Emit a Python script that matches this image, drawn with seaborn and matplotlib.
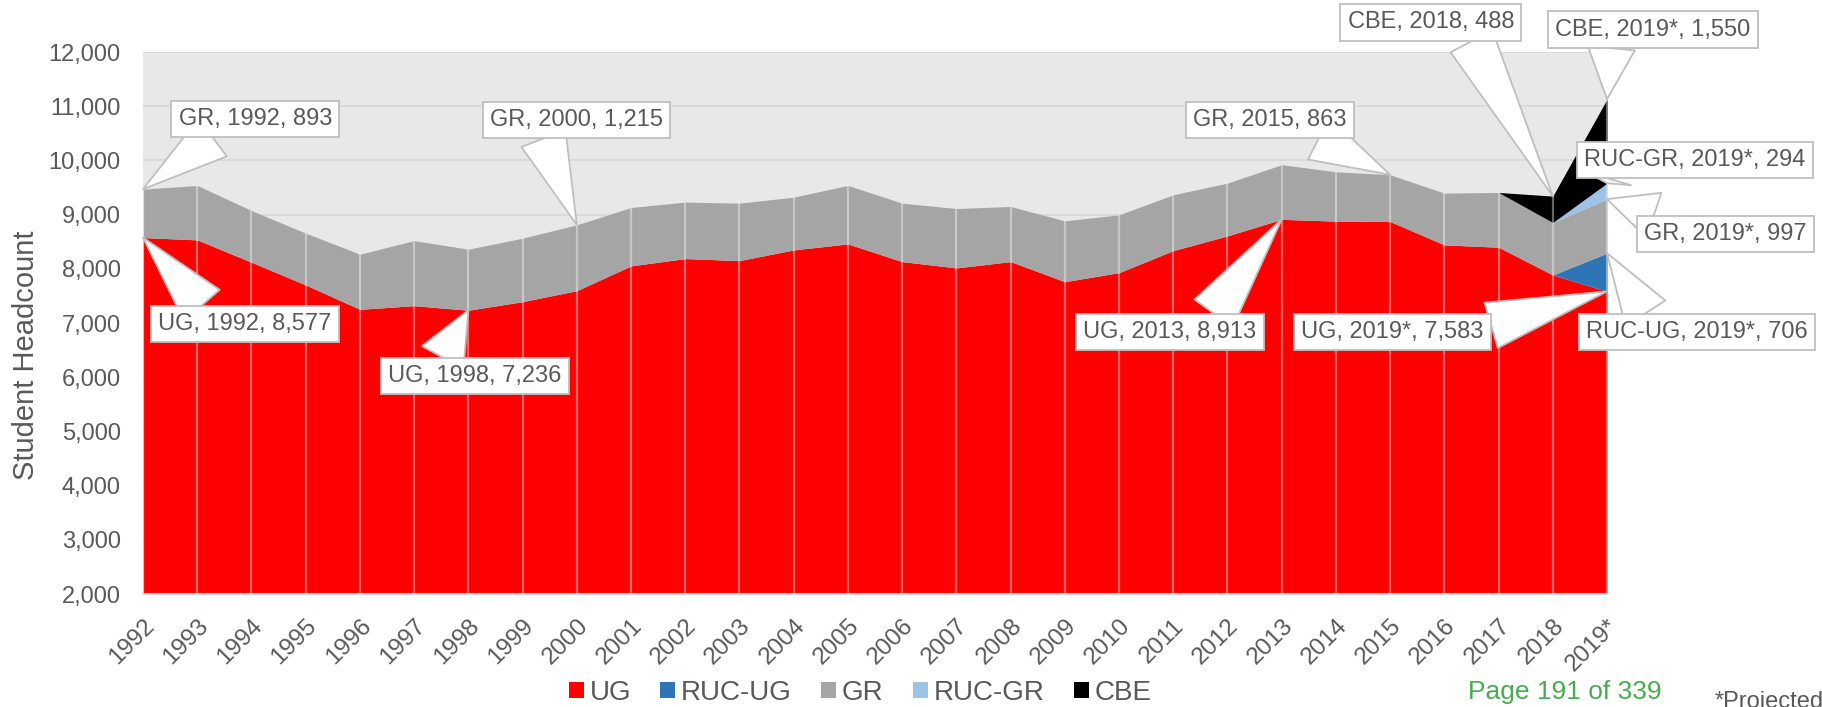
import numpy as np
import matplotlib
matplotlib.use("Agg")
import matplotlib.pyplot as plt
from matplotlib.patches import Patch
import seaborn as sns

years = ["1992", "1993", "1994", "1995", "1996", "1997", "1998", "1999", "2000",
         "2001", "2002", "2003", "2004", "2005", "2006", "2007", "2008", "2009",
         "2010", "2011", "2012", "2013", "2014", "2015", "2016", "2017", "2018", "2019*"]
ug = [8577, 8534, 8122, 7702, 7253, 7320, 7236, 7394, 7597, 8054, 8189, 8152, 8349, 8460,
      8133, 8017, 8133, 7763, 7930, 8336, 8608, 8913, 8880, 8873, 8442, 8399, 7887, 7583]
ruc_ug = [0] * 27 + [706]
gr = [893, 1004, 954, 956, 1017, 1201, 1126, 1171, 1215, 1077, 1042, 1060, 974, 1078,
      1079, 1096, 1017, 1122, 1066, 1030, 974, 1008, 911, 863, 955, 1010, 967, 997]
ruc_gr = [0] * 27 + [294]
cbe = [0] * 25 + [0, 488, 1550]

series_names = ["UG", "RUC-UG", "GR", "RUC-GR", "CBE"]
colors = ["#ff0000", "#2e75b6", "#a5a5a5", "#9dc3e6", "#000000"]

sns.set_theme(style="darkgrid", rc={"axes.facecolor": "#e8e8e8", "grid.color": "#d9d9d9"})
plt.rcParams["font.family"] = ["Liberation Sans", "DejaVu Sans"]
TXT = "#595959"

fig = plt.figure(figsize=(18.22, 7.07), dpi=100)
fig.patch.set_facecolor("white")
ax = fig.add_axes([0.0785, 0.1598, 0.8035, 0.7666])

x = np.arange(len(years))
layers = [ug, ruc_ug, gr, ruc_gr, cbe]
ax.stackplot(x, *layers, colors=colors, linewidth=0, zorder=2)
totals = np.sum(np.array(layers), axis=0)
ax.vlines(x, 2000, totals, colors="white", alpha=0.4, linewidth=1.6, zorder=3)

ax.set_xlim(0, len(years) - 1)
ax.set_ylim(2000, 12000)
ax.set_yticks(np.arange(2000, 12001, 1000))
ax.yaxis.set_major_formatter(matplotlib.ticker.FuncFormatter(lambda v, p: f"{int(v):,}"))
ax.set_xticks(x)
ax.set_xticklabels(years, rotation=45, ha="right", va="top", rotation_mode="anchor")
ax.tick_params(axis="y", length=0, pad=16, labelsize=17, labelcolor=TXT)
ax.tick_params(axis="x", length=0, pad=15, labelsize=17.5, labelcolor=TXT)
ax.grid(axis="x", visible=False)
ax.grid(axis="y", color="#d9d9d9", linewidth=1.3)
ax.set_axisbelow(True)
for s in ["top", "right", "left"]:
    ax.spines[s].set_visible(False)
ax.spines["bottom"].set_visible(True)
ax.spines["bottom"].set_color("#d9d9d9")
ax.spines["bottom"].set_linewidth(1.5)

ax.set_ylabel("Student Headcount", fontsize=21, color=TXT, va="center")
ax.yaxis.set_label_coords(-0.08, 0.44)

# callouts: (text, series index, year index, text position (x, y) in data, relpos)
ann = [
    ("GR, 1992, 893", 2, 0, (2.07, 10771), (0.29, 0)),
    ("UG, 1992, 8,577", 0, 0, (1.88, 6982), (0.29, 1)),
    ("GR, 2000, 1,215", 2, 8, (8.00, 10752), (0.29, 0)),
    ("UG, 1998, 7,236", 0, 6, (6.12, 6021), (0.29, 1)),
    ("UG, 2013, 8,913", 0, 21, (18.94, 6834), (0.72, 1)),
    ("GR, 2015, 863", 2, 23, (20.78, 10752), (0.72, 0)),
    ("CBE, 2018, 488", 4, 26, (23.75, 12545), (0.72, 0)),
    ("CBE, 2019*, 1,550", 4, 27, (27.85, 12415), (0.29, 0)),
    ("RUC-GR, 2019*, 294", 3, 27, (28.62, 10013), (0.12, 0)),
    ("GR, 2019*, 997", 2, 27, (29.18, 8645), (0.2, 1)),
    ("RUC-UG, 2019*, 706", 1, 27, (28.66, 6834), (0.29, 1)),
    ("UG, 2019*, 7,583", 0, 27, (23.04, 6834), (1.0, 0.7)),
]
cum = np.cumsum(np.array(layers), axis=0)
for txt, si, yi, pos, rp in ann:
    ax.annotate(txt, xy=(x[yi], cum[si][yi]), xytext=pos, textcoords="data",
                ha="center", va="center", fontsize=17, color=TXT, annotation_clip=False,
                zorder=10,
                bbox=dict(boxstyle="square,pad=0.3", fc="white", ec="#bfbfbf", lw=1.3),
                arrowprops=dict(arrowstyle="wedge,tail_width=2.0,shrink_factor=0.5",
                                fc="white", ec="#bfbfbf", lw=1.3, relpos=rp,
                                shrinkA=0, shrinkB=0, connectionstyle="arc3"))

handles = [Patch(facecolor=c, edgecolor="none", label=n) for c, n in zip(colors, series_names)]
leg = fig.legend(handles=handles, loc="center", bbox_to_anchor=(0.472, 0.02), ncol=5,
                 frameon=False, fontsize=20, handlelength=0.55, handleheight=0.55,
                 handletextpad=0.2, columnspacing=1.05, borderpad=0)
for t in leg.get_texts():
    t.set_color(TXT)

fig.text(1565 / 1822, 0.021, "Page 191 of 339", color="#4baa50", fontsize=19,
         ha="center", va="center")
fig.text(1715 / 1822, -1 / 707, "*Projected", color=TXT, fontsize=17, ha="left", va="baseline")

fig.savefig("out.png", dpi=100, facecolor="white")
